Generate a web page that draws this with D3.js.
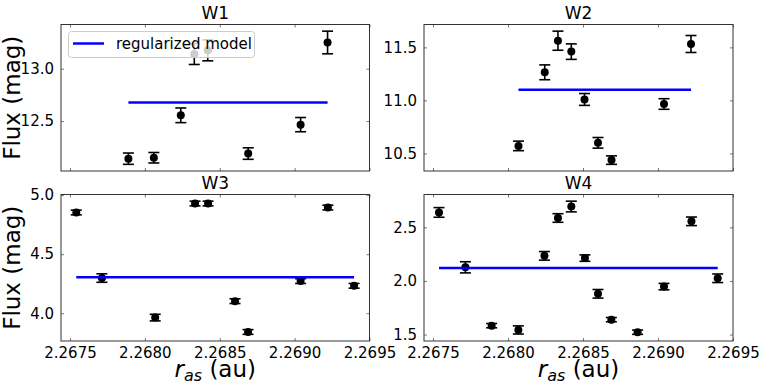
<!DOCTYPE html>
<html>
<head>
<meta charset="utf-8">
<script src="https://cdn.jsdelivr.net/npm/d3@7"></script>
<style>
  body { margin: 0; background: #fff; }
  text { font-family: "DejaVu Sans", sans-serif; fill: #000; }
</style>
</head>
<body>
<script>
// shared x ticks (r_as, au)
var xTicks = [2.2675, 2.2680, 2.2685, 2.2690, 2.2695];

// W1
var w1X = [2.26789, 2.26806, 2.26824, 2.26833, 2.26842, 2.26869, 2.26904, 2.26922];
var w1Y = [12.141, 12.15, 12.555, 13.14, 13.175, 12.19, 12.466, 13.25];
var w1Err = [0.054, 0.05, 0.07, 0.10, 0.10, 0.055, 0.068, 0.108];
var w1Model = 12.678;
var w1Ticks = [12.5, 13.0];

// W2
var w2X = [2.26807, 2.268245, 2.268333, 2.268422, 2.26851, 2.2686, 2.26869, 2.26904, 2.26922];
var w2Y = [10.571, 11.265, 11.563, 11.46, 11.009, 10.6, 10.437, 10.966, 11.532];
var w2Err = [0.045, 0.07, 0.09, 0.073, 0.056, 0.05, 0.04, 0.05, 0.08];
var w2Model = 11.1;
var w2Ticks = [10.5, 11.0, 11.5];

// W3
var w3X = [2.267542, 2.267713, 2.268069, 2.268335, 2.268422, 2.268602, 2.268689, 2.26904, 2.269222, 2.269397];
var w3Y = [4.853, 4.298, 3.963, 4.929, 4.929, 4.102, 3.841, 4.272, 4.895, 4.232];
var w3Err = [0.02, 0.036, 0.028, 0.02, 0.02, 0.02, 0.02, 0.02, 0.02, 0.02];
var w3Model = 4.305;
var w3Ticks = [4.0, 4.5, 5.0];

// W4
var w4X = [2.26754, 2.267716, 2.267891, 2.268069, 2.268243, 2.268333, 2.268422, 2.268513, 2.2686, 2.268689, 2.268864, 2.26904, 2.269223, 2.269398];
var w4Y = [2.639, 2.127, 1.583, 1.543, 2.234, 2.587, 2.694, 2.213, 1.88, 1.639, 1.522, 1.947, 2.556, 2.025];
var w4Err = [0.045, 0.052, 0.02, 0.038, 0.04, 0.04, 0.05, 0.03, 0.04, 0.02, 0.02, 0.03, 0.04, 0.04];
var w4Model = 2.12;
var w4Ticks = [1.5, 2.0, 2.5];

var width = 763, height = 384;

var svg = d3.select("body").append("svg")
    .attr("width", width).attr("height", height);

var panels = [
  {name: "W1", xs: w1X, ys: w1Y, errs: w1Err, model: w1Model, ticks: w1Ticks, left: 61, right: 369.5, top: 24.5, bottom: 171, xlab: false, ylab: true, legend: true},
  {name: "W2", xs: w2X, ys: w2Y, errs: w2Err, model: w2Model, ticks: w2Ticks, left: 424, right: 733, top: 24.5, bottom: 171, xlab: false, ylab: false},
  {name: "W3", xs: w3X, ys: w3Y, errs: w3Err, model: w3Model, ticks: w3Ticks, left: 61, right: 369.5, top: 194.5, bottom: 341, xlab: true, ylab: true},
  {name: "W4", xs: w4X, ys: w4Y, errs: w4Err, model: w4Model, ticks: w4Ticks, left: 424, right: 733, top: 194.5, bottom: 341, xlab: true, ylab: false}
];

panels.forEach(function(p){
  var x = d3.scaleLinear().domain([2.26744, 2.2695]).range([p.left, p.right]);

  // matplotlib-style autoscale: data +- err, 5% margin
  var lo = d3.min(p.ys, function(d, i){ return d - p.errs[i]; });
  var hi = d3.max(p.ys, function(d, i){ return d + p.errs[i]; });
  var pad = (hi - lo) * 0.05;
  var y = d3.scaleLinear().domain([lo - pad, hi + pad]).range([p.bottom, p.top]);

  var g = svg.append("g").attr("class", "panel");

  // ticks, pointing inwards on all four sides
  var tickStyle = function(sel){
    sel.select(".domain").remove();
    sel.selectAll(".tick line").attr("stroke", "#555").attr("stroke-width", 0.8);
    sel.selectAll(".tick text").style("font-size", "15px").style("font-family", "DejaVu Sans");
  };

  g.append("g").attr("transform", "translate(0," + p.bottom + ")")
    .call(d3.axisBottom(x).tickValues(xTicks).tickSizeInner(-3).tickSizeOuter(0).tickPadding(6)
      .tickFormat(p.xlab ? d3.format(".4f") : function(){ return ""; }))
    .call(tickStyle);
  g.append("g").attr("transform", "translate(0," + p.top + ")")
    .call(d3.axisTop(x).tickValues(xTicks).tickSizeInner(-3).tickSizeOuter(0).tickFormat(""))
    .call(tickStyle);
  g.append("g").attr("transform", "translate(" + p.left + ",0)")
    .call(d3.axisLeft(y).tickValues(p.ticks).tickSizeInner(-3).tickSizeOuter(0).tickPadding(7)
      .tickFormat(d3.format(".1f")))
    .call(tickStyle);
  g.append("g").attr("transform", "translate(" + p.right + ",0)")
    .call(d3.axisRight(y).tickValues(p.ticks).tickSizeInner(-3).tickSizeOuter(0).tickFormat(""))
    .call(tickStyle);

  // frame
  g.append("rect")
    .attr("x", p.left).attr("y", p.top)
    .attr("width", p.right - p.left).attr("height", p.bottom - p.top)
    .attr("fill", "none").attr("stroke", "#333").attr("stroke-width", 1);

  var pts = p.xs.map(function(d, i){ return {x: d, y: p.ys[i], e: p.errs[i]}; });

  // error bars
  var eb = g.append("g").selectAll("g").data(pts).enter().append("g")
    .attr("stroke", "#000").attr("stroke-width", 1.6);
  eb.append("line")
    .attr("x1", function(d){ return x(d.x); }).attr("x2", function(d){ return x(d.x); })
    .attr("y1", function(d){ return y(d.y - d.e); }).attr("y2", function(d){ return y(d.y + d.e); });
  eb.append("line")
    .attr("x1", function(d){ return x(d.x) - 5.5; }).attr("x2", function(d){ return x(d.x) + 5.5; })
    .attr("y1", function(d){ return y(d.y - d.e); }).attr("y2", function(d){ return y(d.y - d.e); });
  eb.append("line")
    .attr("x1", function(d){ return x(d.x) - 5.5; }).attr("x2", function(d){ return x(d.x) + 5.5; })
    .attr("y1", function(d){ return y(d.y + d.e); }).attr("y2", function(d){ return y(d.y + d.e); });

  g.append("g").selectAll("circle").data(pts).enter().append("circle")
    .attr("cx", function(d){ return x(d.x); })
    .attr("cy", function(d){ return y(d.y); })
    .attr("r", 4).attr("fill", "#000");

  // regularized model
  g.append("line")
    .attr("x1", x(d3.min(p.xs))).attr("x2", x(d3.max(p.xs)))
    .attr("y1", y(p.model)).attr("y2", y(p.model))
    .attr("stroke", "#0000ff").attr("stroke-width", 2.5);

  // title
  g.append("text")
    .attr("x", (p.left + p.right) / 2).attr("y", p.top - 5.5)
    .attr("text-anchor", "middle").style("font-size", "17px")
    .text(p.name);

  if (p.ylab) {
    g.append("text")
      .attr("transform", "translate(20," + ((p.top + p.bottom) / 2) + ") rotate(-90)")
      .attr("text-anchor", "middle").style("font-size", "23px")
      .text("Flux (mag)");
  }
  if (p.xlab) {
    var t = g.append("text")
      .attr("x", (p.left + p.right) / 2).attr("y", 377)
      .attr("text-anchor", "middle").style("font-size", "23px");
    t.append("tspan").style("font-style", "italic").text("r");
    t.append("tspan").style("font-style", "italic").style("font-size", "16px").attr("dy", 3.5).text("as");
    t.append("tspan").attr("dy", -3.5).text(" (au)");
  }

  if (p.legend) {
    var lg = g.append("g");
    lg.append("rect")
      .attr("x", 68.5).attr("y", 31.5).attr("width", 186).attr("height", 26)
      .attr("rx", 3).attr("fill", "#fff").attr("fill-opacity", 0.8)
      .attr("stroke", "#ccc").attr("stroke-width", 1);
    lg.append("line")
      .attr("x1", 73).attr("x2", 104).attr("y1", 43.5).attr("y2", 43.5)
      .attr("stroke", "#0000ff").attr("stroke-width", 2.5);
    lg.append("text")
      .attr("x", 116).attr("y", 49).style("font-size", "15px")
      .text("regularized model");
  }
});
</script>
</body>
</html>
